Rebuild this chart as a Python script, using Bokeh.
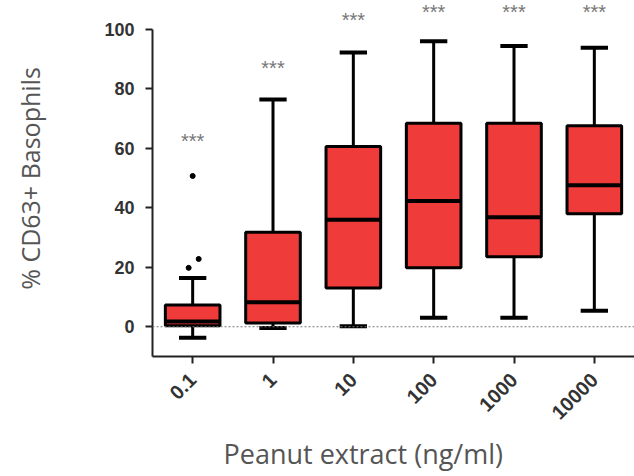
import math
from bokeh.plotting import figure
from bokeh.models import ColumnDataSource, FixedTicker, Span, Range1d, Title
from bokeh.core.properties import value
from bokeh.embed import file_html
from bokeh.resources import INLINE

# Peanut extract concentrations (ng/ml)
doses = ["0.1", "1", "10", "100", "1000", "10000"]

# Box-and-whisker summary of % CD63+ basophils per dose
whisker_low = [-3.7, -0.4, 0.2, 3.0, 3.0, 5.4]
q1 = [0.3, 1.3, 13.0, 19.8, 23.5, 38.0]
median = [1.8, 8.2, 36.0, 42.3, 36.8, 47.6]
q3 = [7.3, 31.8, 60.6, 68.4, 68.4, 67.6]
whisker_high = [16.4, 76.4, 92.2, 96.0, 94.4, 93.8]

# Points beyond the whiskers
outlier_dose = ["0.1", "0.1", "0.1"]
outlier_val = [50.7, 19.8, 22.8]
outlier_jitter = [0.0, -0.05, 0.075]

# Significance marks above each group
star_text = ["***"] * 6
star_y = [62.5, 87.0, 103.2, 106.0, 106.0, 106.0]

yticks = [0, 20, 40, 60, 80, 100]

src = ColumnDataSource(dict(dose=doses, lo=whisker_low, q1=q1, med=median,
                            q3=q3, hi=whisker_high, star=star_text, sy=star_y))

p = figure(x_range=doses, y_range=Range1d(-10, 109.7), width=634, height=476,
           output_backend="svg", toolbar_location=None,
           min_border_left=152, min_border_right=0, min_border_top=0,
           min_border_bottom=119)
p.x_range.range_padding = 0
p.outline_line_color = None
p.grid.visible = False
p.background_fill_color = "white"

# zero reference line
p.add_layout(Span(location=0, dimension="width", line_color="#777777",
                  line_dash="2 2", line_width=1))

box_w = 0.68
cap_w = 0.34
red = "#EF3B3A"

# whiskers
p.segment(x0="dose", y0="hi", x1="dose", y1="q3", source=src,
          line_color="black", line_width=3)
p.segment(x0="dose", y0="lo", x1="dose", y1="q1", source=src,
          line_color="black", line_width=3)
# whisker caps
p.rect(x="dose", y="hi", width=cap_w, height=4, height_units="screen",
       source=src, fill_color="black", line_color=None)
p.rect(x="dose", y="lo", width=cap_w, height=4, height_units="screen",
       source=src, fill_color="black", line_color=None)

# boxes
p.vbar(x="dose", width=box_w, bottom="q1", top="q3", source=src,
       fill_color=red, line_color="black", line_width=3)
# medians
p.rect(x="dose", y="med", width=box_w, height=4, height_units="screen",
       source=src, fill_color="black", line_color=None)

# outliers
osrc = ColumnDataSource(dict(x=[(d, j) for d, j in zip(outlier_dose, outlier_jitter)],
                             y=outlier_val))
p.scatter(x="x", y="y", source=osrc, size=5, fill_color="black", line_color="black")

# significance stars
p.text(x="dose", y="sy", text="star", source=src, text_align="center",
       text_baseline="middle", text_font=value("Liberation Sans"),
       text_font_size="20px", text_color="#777777")

# axes
yax = p.yaxis[0]
yax.ticker = FixedTicker(ticks=yticks)
yax.bounds = (-10, 100)
yax.axis_line_width = 2
yax.axis_line_color = "#222222"
yax.major_tick_line_width = 2
yax.major_tick_line_color = "#222222"
yax.major_tick_out = 7
yax.major_tick_in = 0
yax.minor_tick_line_color = None
yax.major_label_standoff = 11
yax.major_label_text_font = "Liberation Sans"
yax.major_label_text_font_style = "bold"
yax.major_label_text_font_size = "18px"
yax.major_label_text_color = "#333333"
yax.axis_label = "% CD63+ Basophils"
yax.axis_label_text_font = "Open Sans"
yax.axis_label_text_font_style = "normal"
yax.axis_label_text_font_size = "25px"
yax.axis_label_text_color = "#555555"
yax.axis_label_standoff = 54

xax = p.xaxis[0]
xax.axis_line_width = 2
xax.axis_line_color = "#222222"
xax.major_tick_line_width = 2
xax.major_tick_line_color = "#222222"
xax.major_tick_out = 7
xax.major_tick_in = 0
xax.major_label_orientation = math.pi / 4
xax.major_label_standoff = 13
xax.major_label_text_font = "Liberation Sans"
xax.major_label_text_font_style = "bold"
xax.major_label_text_font_size = "20px"
xax.major_label_text_color = "#333333"

# x-axis title, set slightly left of the frame centre
p.add_layout(Title(text="Peanut extract (ng/ml)", align="left", offset=71,
                   text_font="Open Sans", text_font_style="normal",
                   text_font_size="27px", text_color="#555555",
                   standoff=9), "below")

open("out.html", "w").write(file_html(p, INLINE))
